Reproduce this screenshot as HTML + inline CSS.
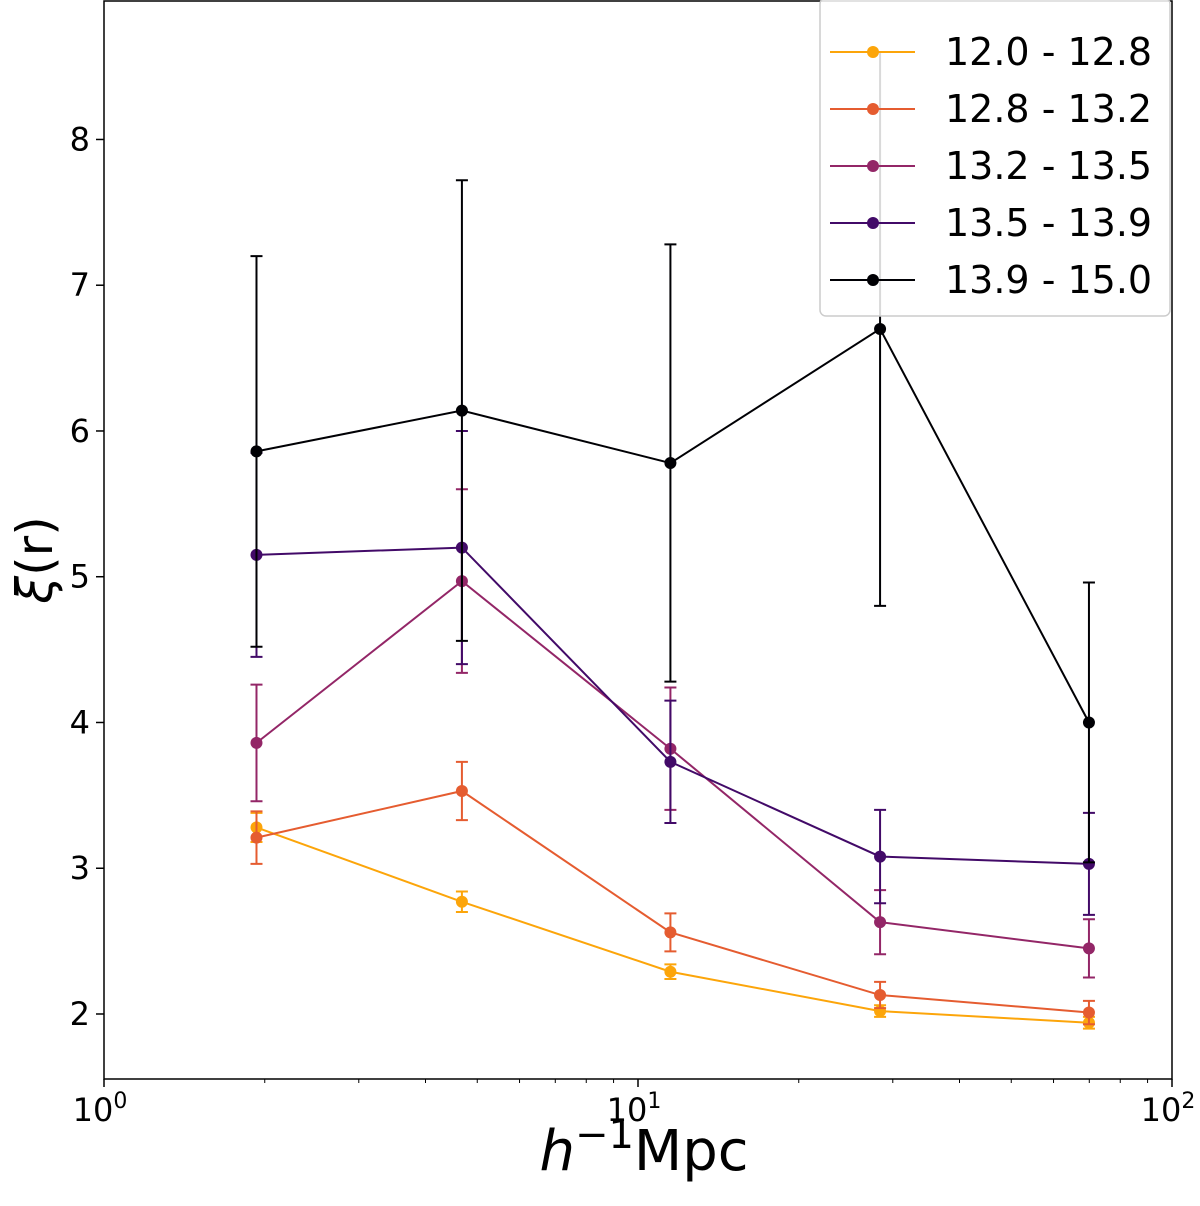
<!DOCTYPE html>
<html><head><meta charset="utf-8"><style>
html,body{margin:0;padding:0;background:#fff;}
svg{display:block;font-family:"DejaVu Sans","Liberation Sans",sans-serif;}
</style></head><body>
<svg id="chart" width="1200" height="1206" viewBox="0 0 1200 1206" xmlns="http://www.w3.org/2000/svg">
<g id="marks"></g>
<g id="axes"></g>
<g id="legend"></g>
</svg>
<script>
const xValues = [1.93, 4.68, 11.5, 28.4, 69.9];
const seriesLabels = ["12.0 - 12.8","12.8 - 13.2","13.2 - 13.5","13.5 - 13.9","13.9 - 15.0"];
const seriesColors = ["#fca50a","#e55c30","#932667","#420a68","#000004"];
const s1 = [3.28, 2.77, 2.29, 2.02, 1.94];
const e1 = [0.10, 0.07, 0.05, 0.04, 0.04];
const s2 = [3.21, 3.53, 2.56, 2.13, 2.01];
const e2 = [0.18, 0.20, 0.13, 0.09, 0.08];
const s3 = [3.86, 4.97, 3.82, 2.63, 2.45];
const e3 = [0.40, 0.63, 0.42, 0.22, 0.20];
const s4 = [5.15, 5.20, 3.73, 3.08, 3.03];
const e4 = [0.70, 0.80, 0.42, 0.32, 0.35];
const s5 = [5.86, 6.14, 5.78, 6.70, 4.00];
const e5 = [1.34, 1.58, 1.50, 1.90, 0.96];
const yTicks = [2,3,4,5,6,7,8];
const xTickExps = [0,1,2];

const NS="http://www.w3.org/2000/svg";
const L=104,R=1172,T=1,B=1079;
const yMin=1.554,yMax=8.95;
function xs(v){return L+(Math.log10(v)-0)/2*(R-L);}
function ys(v){return B-(v-yMin)/(yMax-yMin)*(B-T);}
function mk(tag,attrs,parent){const e=document.createElementNS(NS,tag);for(const k in attrs)e.setAttribute(k,attrs[k]);parent.appendChild(e);return e;}
const marks=document.getElementById('marks'),axes=document.getElementById('axes'),legend=document.getElementById('legend');
const all=[[s1,e1],[s2,e2],[s3,e3],[s4,e4],[s5,e5]];
all.forEach(([s,e],i)=>{
  const g=mk('g',{},marks);
  
  
  const c=seriesColors[i];
  s.forEach((v,j)=>{
    const x=xs(xValues[j]);
    const eb=mk('path',{d:`M${x},${ys(v-e[j])}V${ys(v+e[j])}M${x-6},${ys(v-e[j])}H${x+6}M${x-6},${ys(v+e[j])}H${x+6}`,stroke:c,'stroke-width':2,fill:'none'},g);
    
    
  });
  const pl=mk('polyline',{points:s.map((v,j)=>xs(xValues[j])+','+ys(v)).join(' '),stroke:c,'stroke-width':2,fill:'none'},g);
  
  
  s.forEach((v,j)=>{
    const p=mk('circle',{cx:xs(xValues[j]),cy:ys(v),r:6,fill:c},g);
    
    
  });
});
const fr=mk('rect',{x:L,y:T,width:R-L,height:B-T,fill:'none',stroke:'#000','stroke-width':1.5},axes);


yTicks.forEach(t=>{
  const y=ys(t);
  mk('line',{x1:L-8,x2:L,y1:y,y2:y,stroke:'#000','stroke-width':1.5},axes);
  const tx=mk('text',{x:L-14,y:y+11,'text-anchor':'end','font-size':32},axes);
  tx.textContent=t;
  
  
});
xTickExps.forEach(p=>{
  const x=xs(Math.pow(10,p));
  mk('line',{x1:x,x2:x,y1:B,y2:B+8,stroke:'#000','stroke-width':1.5},axes);
  const tx=mk('text',{x:x-4,y:B+42,'text-anchor':'middle','font-size':32},axes);
  tx.innerHTML='10<tspan dy="-13" font-size="22">'+p+'</tspan>';
  
  
  if(p<2){for(let m=2;m<10;m++){const xm=xs(m*Math.pow(10,p));mk('line',{x1:xm,x2:xm,y1:B,y2:B+4,stroke:'#000','stroke-width':1},axes);}}
});
const xl=mk('text',{x:644,y:1170,'text-anchor':'middle','font-size':56},axes);
xl.innerHTML='<tspan font-style="italic">h</tspan><tspan dy="-22" font-size="40">−1</tspan><tspan dy="22">Mpc</tspan>';


const yl=mk('text',{x:0,y:0,'text-anchor':'middle','font-size':50,transform:'translate(52,560) rotate(-90)'},axes);
yl.innerHTML='<tspan font-style="italic">ξ</tspan>(r)';


const lb=mk('rect',{x:820,y:-2,width:350,height:318,rx:6,fill:'#fff','fill-opacity':0.85,stroke:'#ccc','stroke-width':1.5},legend);


seriesLabels.forEach((lab,i)=>{
  const y=52+i*57;
  const g=mk('g',{},legend);
  
  
  mk('line',{x1:830,x2:915,y1:y,y2:y,stroke:seriesColors[i],'stroke-width':2},g);
  mk('circle',{cx:873,cy:y,r:6,fill:seriesColors[i]},g);
  const t=mk('text',{x:945,y:y+13,'font-size':38},g);
  t.textContent=lab;
});
</script>
</body></html>
